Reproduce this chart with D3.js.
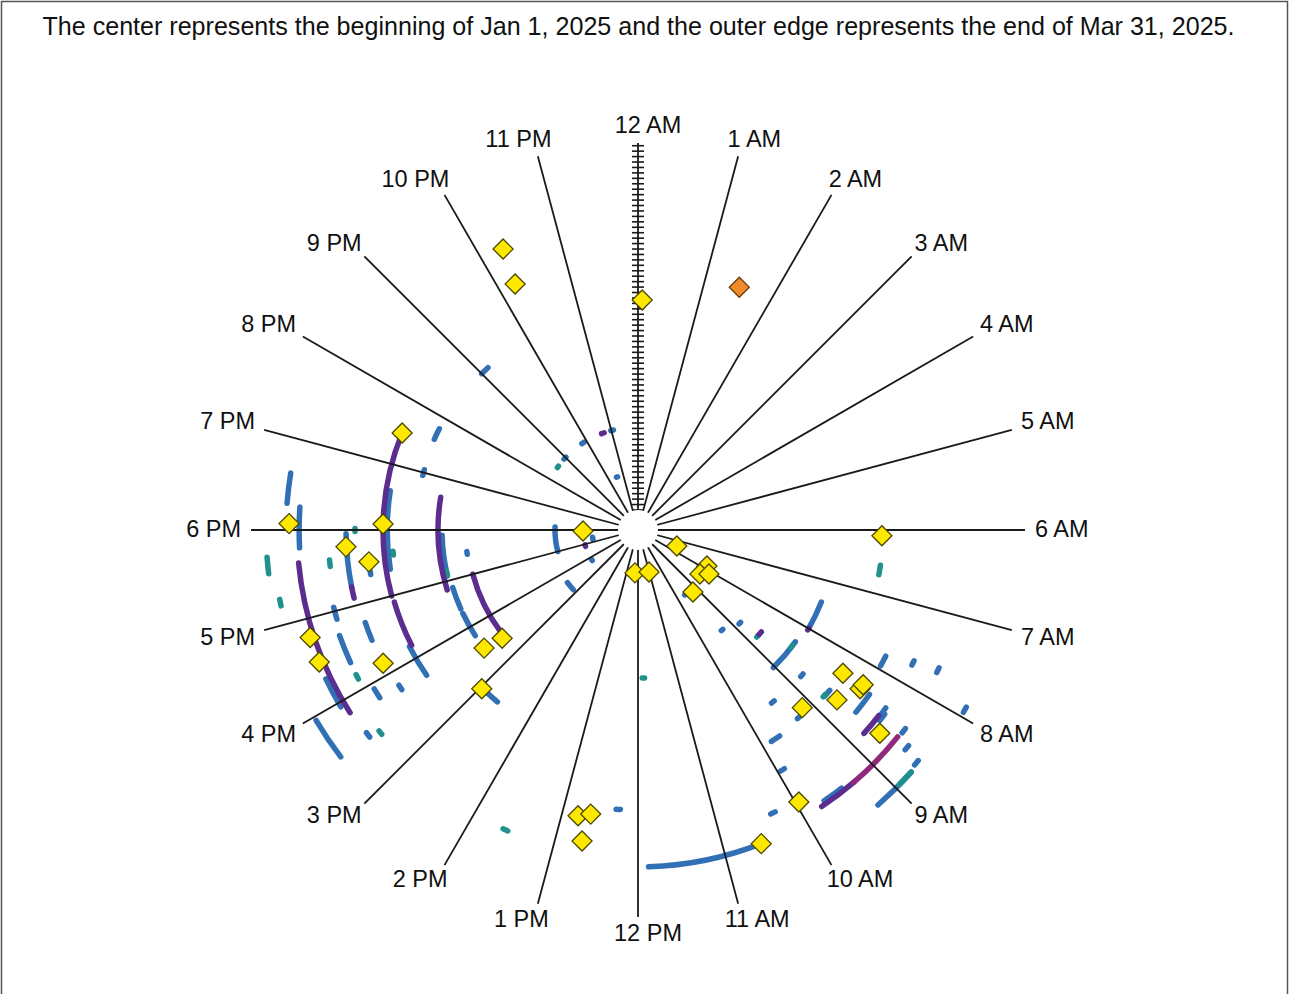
<!DOCTYPE html>
<html><head><meta charset="utf-8">
<script src="https://cdn.jsdelivr.net/npm/d3@7"></script>
<style>body{margin:0;background:#fff}svg{display:block}</style>
</head><body>
<svg id="chart" width="1289" height="994"></svg>
<script>
const titleText = "The center represents the beginning of Jan 1, 2025 and the outer edge represents the end of Mar 31, 2025.";
const hourLabels = ["12 AM","1 AM","2 AM","3 AM","4 AM","5 AM","6 AM","7 AM","8 AM","9 AM","10 AM","11 AM",
                    "12 PM","1 PM","2 PM","3 PM","4 PM","5 PM","6 PM","7 PM","8 PM","9 PM","10 PM","11 PM"];
const totalDays = 90;          // Jan 1 .. Mar 31, 2025
const tickStepDays = 4 / 3;    // spacing of the ticks on the 12 AM axis

// [days since Jan 1 00:00, start hour, end hour]
const blueArcs = [
  [56.6,18.6,17.4],[58.0,16.2,15.7],[81.4,18.62,18.29],[78.2,18.26,17.8],[79.9,16.3,15.95],
  [86.8,15.96,15.51],[66.7,17.95,17.25],[43.16,17.9,17.1],[42.67,16.85,16.4],[42.67,16.3,15.8],
  [49.54,14.9,14.62],[49.78,19.8,19.6],[49.54,19.05,18.95],[72.73,16.7,16.35],[72.1,17.05,16.9],
  [65.72,16.75,16.5],[70.6,15.93,15.8],[65.0,15.8,15.73],[78.2,15.55,15.49],[37.4,17.52,17.46],
  [61.55,17.43,17.37],[49.3,21.15,21.0],[20.35,23.08,22.98],[20.35,21.9,21.8],[20.23,21.02,20.92],
  [9.07,22.6,22.52],[15.45,18.14,17.7],[15.45,17.6,17.0],[6.38,17.4,17.2],[8.58,15.85,15.75],
  [16.68,15.55,15.15],[43.4,7.43,7.99],[63.27,7.8,7.95],[70.0,7.75,7.69],[76.27,7.7,7.64],
  [86.57,7.95,7.89],[27.12,9.36,9.3],[28.94,8.86,8.8],[42.42,8.36,9.03],[48.8,8.8,8.74],
  [48.7,9.49,9.43],[56.4,8.78,8.66],[64.74,8.36,8.66],[55.67,9.2,9.32],[69.9,8.38,8.5],
  [76.76,8.44,8.5],[79.94,8.57,8.63],[84.1,8.63,8.69],[84.6,8.77,9.26],[56.4,9.7,9.85],
  [63.76,9.9,9.96],[71.97,10.27,10.33],[77.74,10.57,11.88],[63.76,12.24,12.3],[14.7,9.62,9.56],
  [75.7,9.45,9.7],[70.6,8.45,8.55]
];
const tealArcs = [
  [55.17,6.7,6.55],[86.3,17.72,17.55],[84.6,17.27,17.2],[64.5,18.02,17.98],[71.1,17.63,17.55],
  [55.4,17.67,17.61],[72.8,16.19,16.13],[75.46,15.48,15.43],[20.1,20.58,20.52],[31.4,11.89,11.83],
  [75.5,13.62,13.56],[84.6,8.77,8.95],[34.3,8.8,8.75],[42.42,8.45,8.5],[56.2,8.8,8.75],[43.16,17.2,17.1]
];
const purpleArcs = [
  [57.63,19.49,17.0],[57.4,16.9,16.2],[78.72,17.63,15.84],[44.14,18.63,16.84],[37.03,17.0,15.55],
  [66.7,17.25,17.1],[20.35,22.72,22.62],[8.58,16.95,16.85],[34.33,8.72,8.64],[69.65,8.51,8.8],
  [76.51,9.3,9.76],[43.4,7.99,8.03]
];
const magentaArcs = [
  [76.51,8.57,9.3]
];
// [days since Jan 1 00:00, hour]
const yellowMarks = [
  [71.53,22.29],[62.53,22.23],[51.5,0.07],[57.63,19.49],[80.68,18.07],[57.63,18.09],[8.58,17.93],
  [66.83,17.78],[61.55,17.55],[79.7,16.79],[79.7,16.5],[65.62,16.16],[42.67,15.5],[37.69,15.43],
  [49.71,14.97],[5.64,12.27],[5.74,11.02],[5.4,7.49],[14.17,7.84],[13.73,8.36],[15.57,8.12],
  [15.42,9.23],[54.93,6.09],[56.4,8.33],[62.04,8.37],[62.1,8.30],[59.27,8.7],[54.44,9.15],
  [72.56,8.67],[72.59,9.96],[77.74,10.57],[66.7,12.79],[65.72,12.63],[72.59,12.68]
];
const orangeMarks = [
  [59.59,1.51]
];

const W = 1289, H = 994, cx = 638, cy = 530, r0 = 20, r1 = 387;
const svg = d3.select("#chart");
const font = "'Liberation Sans', Arial, Helvetica, sans-serif";

svg.append("rect").attr("x",1.5).attr("y",1.5).attr("width",W-3).attr("height",H+10)
  .attr("fill","#fff").attr("stroke","#555").attr("stroke-width",1.5);

const title = svg.append("text").attr("x",638.5).attr("y",26)
  .attr("text-anchor","middle").attr("dominant-baseline","central")
  .attr("font-family",font).attr("font-size",22).attr("fill","#111").text(titleText);
const tw = title.node().getComputedTextLength();
title.attr("font-size", 22 * 1193 / tw);

const rScale = d3.scaleLinear().domain([0,totalDays]).range([r0,r1]);
const aScale = d3.scaleLinear().domain([0,24]).range([0,2*Math.PI]);

const g = svg.append("g").attr("transform",`translate(${cx},${cy})`);

function arcPath(d){
  const r = rScale(d[0]);
  const a0 = aScale(Math.min(d[1],d[2])), a1 = aScale(Math.max(d[1],d[2]));
  const p = d3.path();
  p.arc(0,0,r,a0-Math.PI/2,a1-Math.PI/2);
  return p.toString();
}
function drawArcs(data,color){
  g.append("g").selectAll("path").data(data).join("path")
    .attr("d",arcPath).attr("fill","none").attr("stroke",color)
    .attr("stroke-width",5.5).attr("stroke-linecap","round");
}
drawArcs(blueArcs,"#3170b5");
drawArcs(tealArcs,"#21918c");
drawArcs(purpleArcs,"#5a2d8f");
drawArcs(magentaArcs,"#8e2a7c");

// spokes
const hours = d3.range(24);
g.append("g").selectAll("line").data(hours).join("line")
  .attr("x1",0).attr("y1",0)
  .attr("x2",h=>r1*Math.sin(aScale(h))).attr("y2",h=>-r1*Math.cos(aScale(h)))
  .attr("stroke","#1a1a1a").attr("stroke-width",1.8);

// ticks on the 12 AM axis
const tickDays = d3.range(0,totalDays+1e-6,tickStepDays);
g.append("g").selectAll("line").data(tickDays).join("line")
  .attr("x1",-6).attr("x2",6)
  .attr("y1",d=>-rScale(d)).attr("y2",d=>-rScale(d))
  .attr("stroke","#1a1a1a").attr("stroke-width",1.6);

g.append("circle").attr("r",r0).attr("fill","#fff");

// markers
const diamond = d3.symbol().type(d3.symbolSquare).size(200);
function drawMarks(data,fill,stroke){
  g.append("g").selectAll("path").data(data).join("path")
    .attr("d",diamond)
    .attr("transform",d=>{
      const r = rScale(d[0]), a = aScale(d[1]);
      return `translate(${r*Math.sin(a)},${-r*Math.cos(a)}) rotate(45)`;
    })
    .attr("fill",fill).attr("stroke",stroke).attr("stroke-width",1.3);
}
drawMarks(yellowMarks,"#ffe800","#4d4800");
drawMarks(orangeMarks,"#f28a2a","#6b3a08");

// hour labels
const lab = g.append("g").selectAll("text").data(hours).join("text")
  .attr("font-family",font).attr("font-size",23.5).attr("fill","#111")
  .attr("text-anchor","middle").attr("dominant-baseline","central")
  .text(h=>hourLabels[h]);
lab.each(function(h){
  const a = aScale(h), s = Math.sin(a), c = Math.cos(a);
  const hw = this.getComputedTextLength()/2;
  let x = 397*s + Math.sign(s)*hw*Math.sqrt(Math.abs(s));
  if (Math.abs(s) < 1e-6) x = 10;
  const sa = Math.abs(s);
  const extra = sa > 0.7 ? 13*Math.pow((sa-0.7)/0.266,2) : 0;
  const y = -(404+extra)*c - 1;
  d3.select(this).attr("x",x).attr("y",y);
});
</script>
</body></html>
